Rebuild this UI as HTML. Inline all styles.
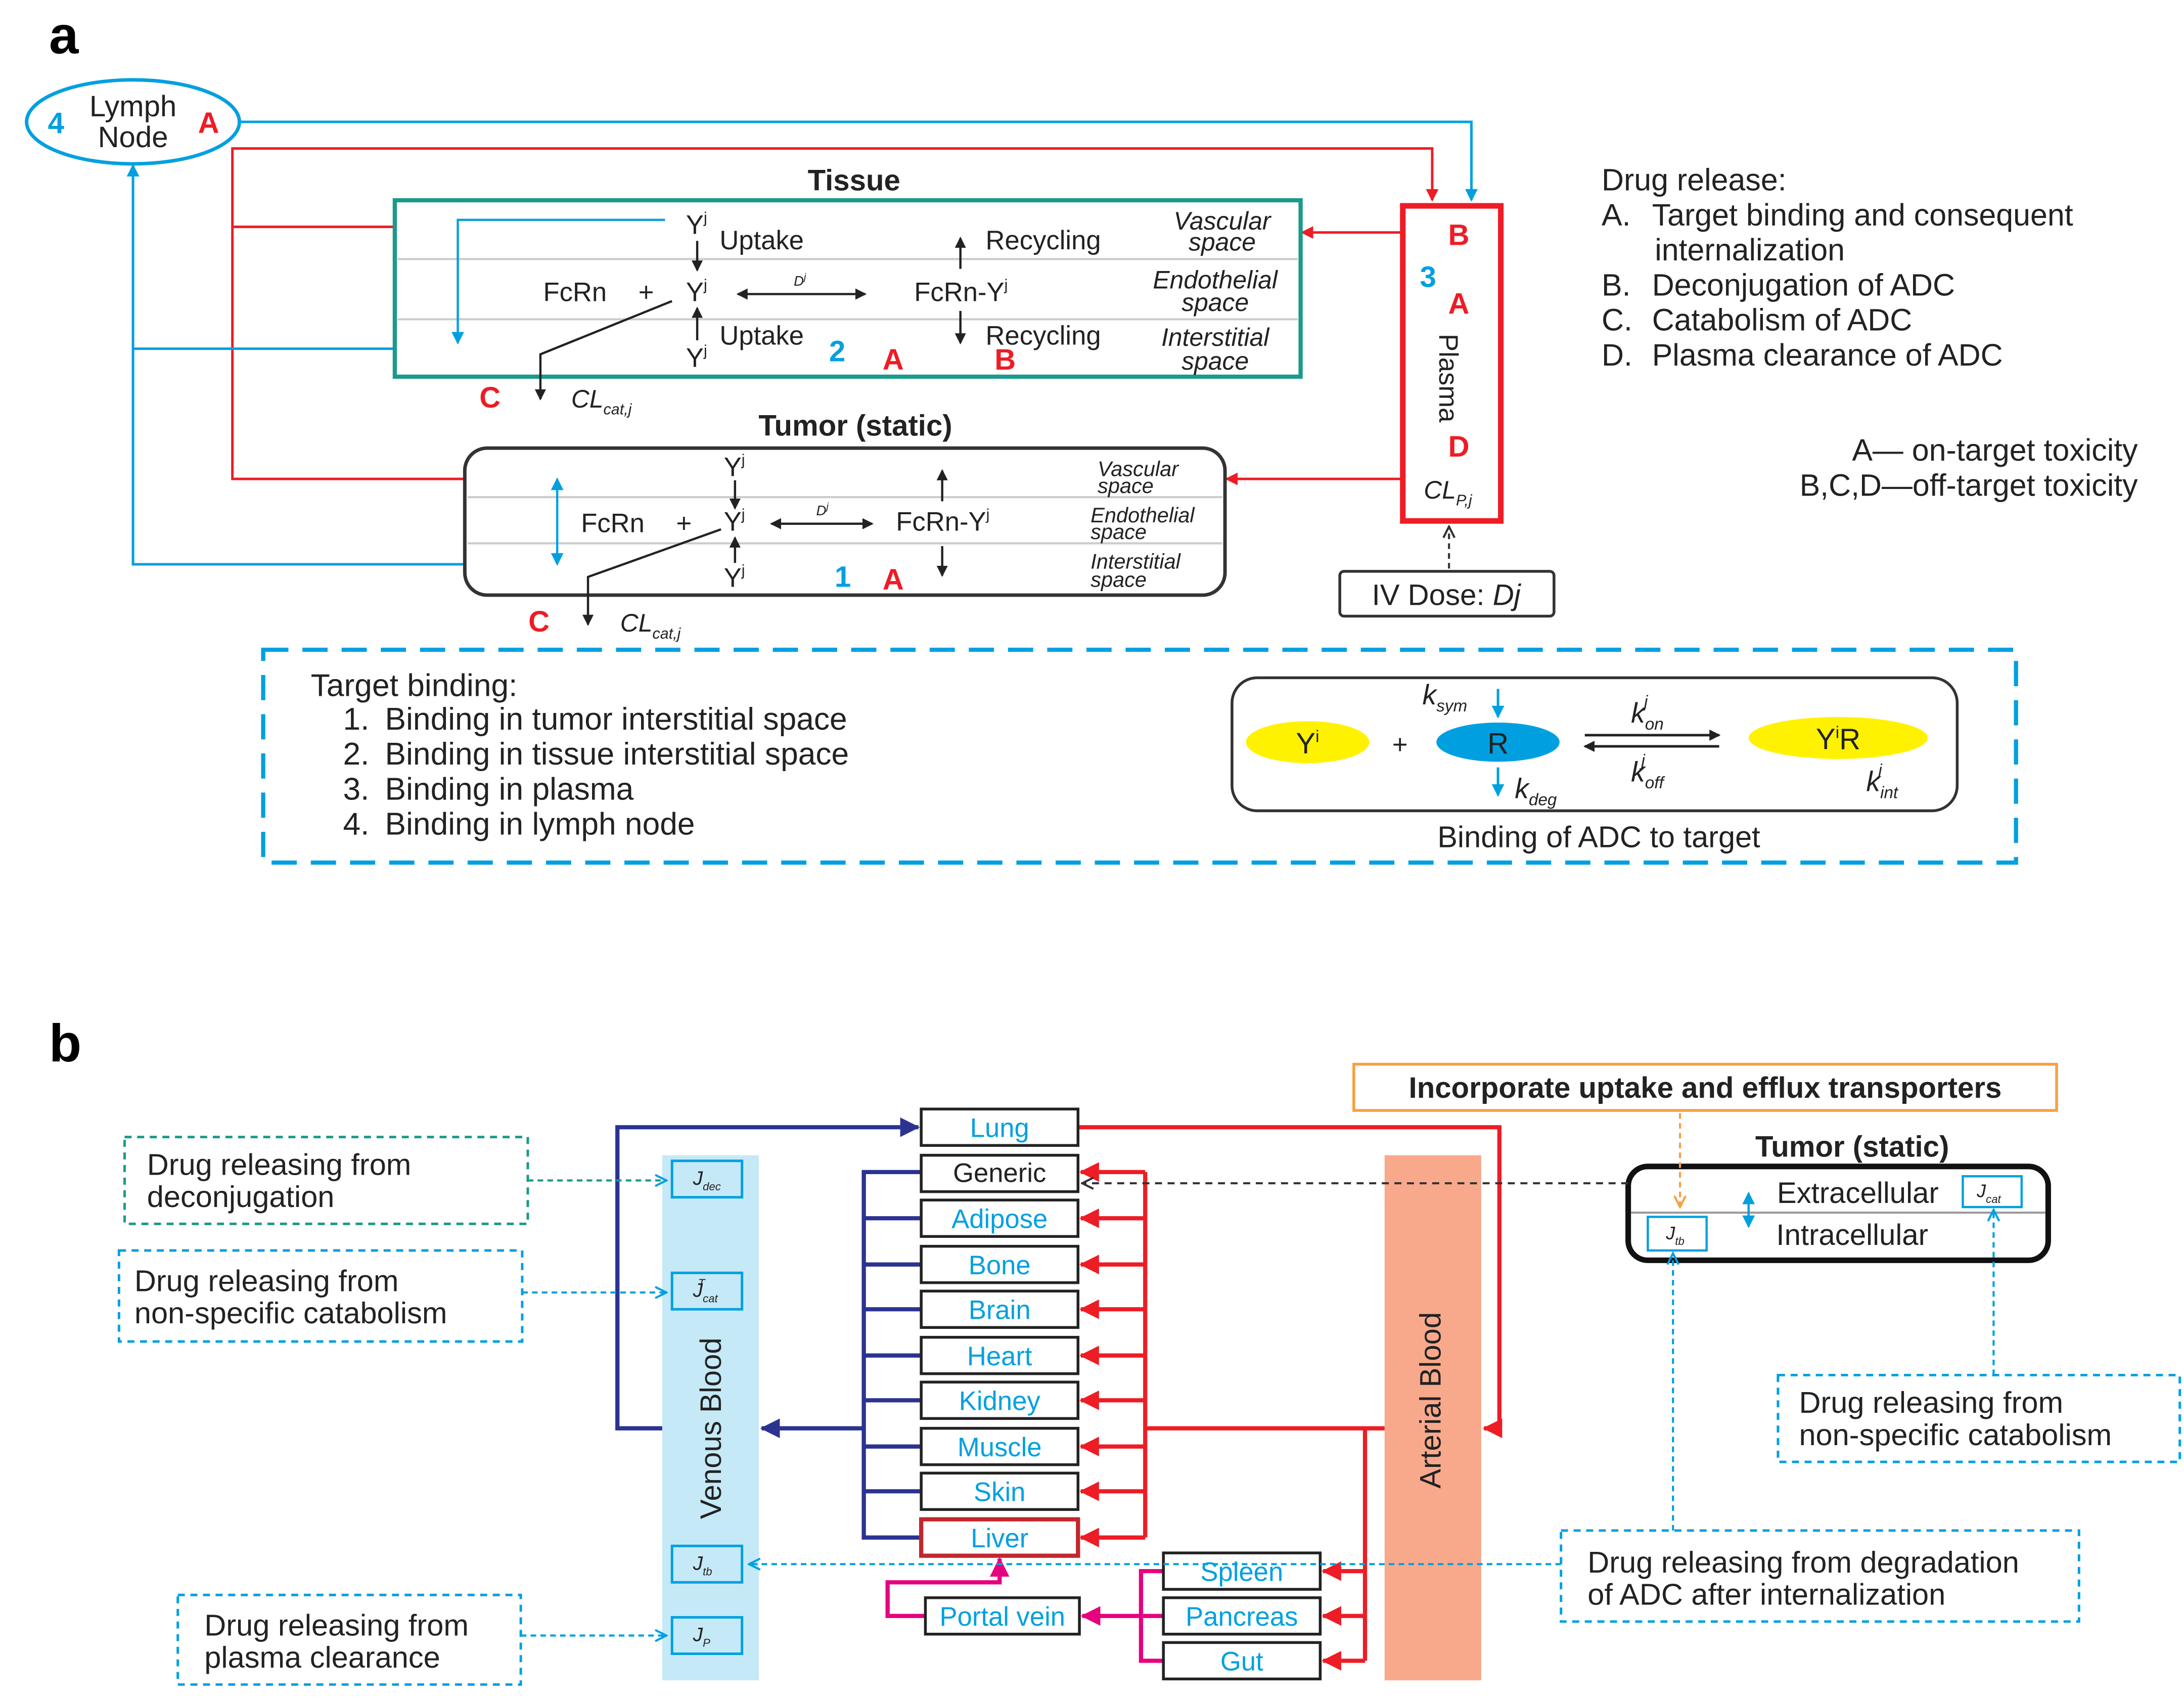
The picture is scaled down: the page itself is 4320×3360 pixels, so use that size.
<!DOCTYPE html>
<html><head><meta charset="utf-8"><style>
html,body{margin:0;padding:0;background:#fff}
svg{display:block;fill:#222}
text{font-family:"Liberation Sans",sans-serif}
.c{fill:#00a0e0}.r{fill:#ee1c25}.b{font-weight:bold}.i{font-style:italic}
</style></head><body>
<svg width="4320" height="3360" viewBox="0 0 1560 1213.3" xmlns="http://www.w3.org/2000/svg">
<defs>
<marker id="ak" markerWidth="8" markerHeight="8" refX="7" refY="4" orient="auto-start-reverse" markerUnits="userSpaceOnUse"><path d="M0,0 L8,4 L0,8 Z" fill="#222"/></marker>
<marker id="ar" markerWidth="9" markerHeight="9" refX="8" refY="4.5" orient="auto" markerUnits="userSpaceOnUse"><path d="M0,0 L9,4.5 L0,9 Z" fill="#ee1c25"/></marker>
<marker id="arb" markerWidth="14" markerHeight="14" refX="13" refY="7" orient="auto" markerUnits="userSpaceOnUse"><path d="M0,0 L14,7 L0,14 Z" fill="#ee1c25"/></marker>
<marker id="ac" markerWidth="9" markerHeight="9" refX="8" refY="4.5" orient="auto-start-reverse" markerUnits="userSpaceOnUse"><path d="M0,0 L9,4.5 L0,9 Z" fill="#00a0e0"/></marker>
<marker id="acd" markerWidth="10" markerHeight="10" refX="9" refY="5" orient="auto" markerUnits="userSpaceOnUse"><path d="M1,1 L9,5 L1,9" fill="none" stroke="#00a0e0" stroke-width="1.5"/></marker>
<marker id="akd" markerWidth="10" markerHeight="10" refX="9" refY="5" orient="auto" markerUnits="userSpaceOnUse"><path d="M1,1 L9,5 L1,9" fill="none" stroke="#333" stroke-width="1.5"/></marker>
<marker id="aod" markerWidth="10" markerHeight="10" refX="9" refY="5" orient="auto" markerUnits="userSpaceOnUse"><path d="M1,1 L9,5 L1,9" fill="none" stroke="#f7a040" stroke-width="1.5"/></marker>
<marker id="an" markerWidth="14" markerHeight="14" refX="13" refY="7" orient="auto" markerUnits="userSpaceOnUse"><path d="M0,0 L14,7 L0,14 Z" fill="#2b3391"/></marker>
<marker id="am" markerWidth="14" markerHeight="14" refX="13" refY="7" orient="auto" markerUnits="userSpaceOnUse"><path d="M0,0 L14,7 L0,14 Z" fill="#e6007e"/></marker>
</defs>

<!-- PART A -->
<text x="35" y="38" font-size="38" class="b" style="fill:#000">a</text>
<ellipse cx="95" cy="87" rx="76" ry="30" fill="none" stroke="#00a0e0" stroke-width="2.5"/>
<text x="95" y="83" font-size="21" text-anchor="middle">Lymph</text>
<text x="95" y="105" font-size="21" text-anchor="middle">Node</text>
<text x="40" y="95" font-size="21" class="c b" text-anchor="middle">4</text>
<text x="149" y="95" font-size="21" class="r b" text-anchor="middle">A</text>

<g fill="none" stroke-width="1.8">
<polyline points="171,87 1051,87 1051,143" stroke="#00a0e0" marker-end="url(#ac)"/>
<polyline points="166,162 166,106 1023,106 1023,143" stroke="#ee1c25" marker-end="url(#ar)"/>
<polyline points="166,162 166,342 332,342" stroke="#ee1c25"/>
<line x1="166" y1="162" x2="282" y2="162" stroke="#ee1c25"/>
<polyline points="332,403 95,403 95,118" stroke="#00a0e0" marker-end="url(#ac)"/>
<line x1="95" y1="249" x2="282" y2="249" stroke="#00a0e0"/>
<line x1="1002" y1="166" x2="930" y2="166" stroke="#ee1c25" marker-end="url(#ar)"/>
<line x1="1002" y1="342" x2="876" y2="342" stroke="#ee1c25" marker-end="url(#ar)"/>
</g>

<!-- Tissue -->
<text x="610" y="136" font-size="21" class="b" text-anchor="middle">Tissue</text>
<rect x="282" y="143" width="647" height="126" fill="none" stroke="#1a9a8a" stroke-width="3"/>
<line x1="284" y1="185" x2="927" y2="185" stroke="#ccc" stroke-width="1.5"/>
<line x1="284" y1="228" x2="927" y2="228" stroke="#ccc" stroke-width="1.5"/>
<g font-size="19">
<text x="490" y="167">Y<tspan font-size="11" dy="-8">j</tspan></text>
<text x="514" y="178">Uptake</text>
<text x="704" y="178">Recycling</text>
<text x="388" y="215">FcRn</text><text x="456" y="215">+</text>
<text x="490" y="215">Y<tspan font-size="11" dy="-8">j</tspan></text>
<text x="653" y="215">FcRn-Y<tspan font-size="11" dy="-8">j</tspan></text>
<text x="514" y="246">Uptake</text>
<text x="704" y="246">Recycling</text>
<text x="490" y="262">Y<tspan font-size="11" dy="-8">j</tspan></text>
</g>
<text x="567" y="204" font-size="10" class="i">D<tspan font-size="7" dy="-4">j</tspan></text>
<g font-size="18" class="i" text-anchor="middle">
<text x="873" y="164">Vascular</text><text x="873" y="179">space</text>
<text x="868" y="206">Endothelial</text><text x="868" y="222">space</text>
<text x="868" y="247">Interstitial</text><text x="868" y="264">space</text>
</g>
<text x="598" y="258" font-size="21" class="c b" text-anchor="middle">2</text>
<text x="638" y="264" font-size="21" class="r b" text-anchor="middle">A</text>
<text x="718" y="264" font-size="21" class="r b" text-anchor="middle">B</text>
<g stroke="#222" stroke-width="1.6" fill="none">
<line x1="498" y1="172" x2="498" y2="193" marker-end="url(#ak)"/>
<line x1="498" y1="243" x2="498" y2="220" marker-end="url(#ak)"/>
<line x1="686" y1="192" x2="686" y2="170" marker-end="url(#ak)"/>
<line x1="686" y1="222" x2="686" y2="245" marker-end="url(#ak)"/>
<line x1="527" y1="210" x2="618" y2="210" marker-end="url(#ak)" marker-start="url(#ak)"/>
<polyline points="480,215 386,253 386,285" marker-end="url(#ak)"/>
</g>
<polyline points="475,157 327,157 327,245" fill="none" stroke="#00a0e0" stroke-width="1.6" marker-end="url(#ac)"/>
<text x="350" y="291" font-size="21" class="r b" text-anchor="middle">C</text>
<text x="408" y="291" font-size="18" class="i">CL<tspan font-size="11" dy="5">cat,j</tspan></text>

<!-- Tumor -->
<text x="611" y="311" font-size="21" class="b" text-anchor="middle">Tumor (static)</text>
<rect x="332" y="320" width="543" height="105" rx="16" fill="none" stroke="#333" stroke-width="2.5"/>
<line x1="334" y1="355" x2="873" y2="355" stroke="#ccc" stroke-width="1.5"/>
<line x1="334" y1="388" x2="873" y2="388" stroke="#ccc" stroke-width="1.5"/>
<g font-size="19">
<text x="517" y="340">Y<tspan font-size="11" dy="-8">j</tspan></text>
<text x="415" y="380">FcRn</text><text x="483" y="380">+</text>
<text x="517" y="379">Y<tspan font-size="11" dy="-8">j</tspan></text>
<text x="640" y="379">FcRn-Y<tspan font-size="11" dy="-8">j</tspan></text>
<text x="517" y="419">Y<tspan font-size="11" dy="-8">j</tspan></text>
</g>
<text x="583" y="368" font-size="10" class="i">D<tspan font-size="7" dy="-4">j</tspan></text>
<g font-size="15" class="i">
<text x="784" y="340">Vascular</text><text x="784" y="352">space</text>
<text x="779" y="373">Endothelial</text><text x="779" y="385">space</text>
<text x="779" y="406">Interstitial</text><text x="779" y="419">space</text>
</g>
<text x="602" y="419" font-size="21" class="c b" text-anchor="middle">1</text>
<text x="638" y="421" font-size="21" class="r b" text-anchor="middle">A</text>
<g stroke="#222" stroke-width="1.6" fill="none">
<line x1="525" y1="343" x2="525" y2="363" marker-end="url(#ak)"/>
<line x1="525" y1="402" x2="525" y2="384" marker-end="url(#ak)"/>
<line x1="673" y1="358" x2="673" y2="336" marker-end="url(#ak)"/>
<line x1="673" y1="390" x2="673" y2="411" marker-end="url(#ak)"/>
<line x1="551" y1="374" x2="623" y2="374" marker-end="url(#ak)" marker-start="url(#ak)"/>
<polyline points="515,378 420,412 420,446" marker-end="url(#ak)"/>
</g>
<line x1="398" y1="342" x2="398" y2="403" stroke="#00a0e0" stroke-width="1.6" marker-end="url(#ac)" marker-start="url(#ac)"/>
<text x="385" y="451" font-size="21" class="r b" text-anchor="middle">C</text>
<text x="443" y="451" font-size="18" class="i">CL<tspan font-size="11" dy="5">cat,j</tspan></text>

<!-- Plasma -->
<rect x="1002" y="147" width="70" height="225" fill="none" stroke="#ee1c25" stroke-width="4"/>
<text x="1042" y="175" font-size="21" class="r b" text-anchor="middle">B</text>
<text x="1020" y="205" font-size="21" class="c b" text-anchor="middle">3</text>
<text x="1042" y="224" font-size="21" class="r b" text-anchor="middle">A</text>
<text x="1028" y="270" font-size="19" text-anchor="middle" transform="rotate(90 1028 270)">Plasma</text>
<text x="1042" y="326" font-size="21" class="r b" text-anchor="middle">D</text>
<text x="1017" y="356" font-size="18" class="i">CL<tspan font-size="11" dy="5">P,j</tspan></text>
<rect x="957" y="408" width="153" height="32" rx="3" fill="none" stroke="#333" stroke-width="2"/>
<text x="1033" y="432" font-size="21" text-anchor="middle">IV Dose: <tspan class="i">Dj</tspan></text>
<line x1="1035" y1="406" x2="1035" y2="376" stroke="#333" stroke-width="1.5" stroke-dasharray="4 3" marker-end="url(#akd)"/>

<!-- Drug release text -->
<g font-size="22">
<text x="1144" y="136">Drug release:</text>
<text x="1144" y="161">A.</text><text x="1180" y="161">Target binding and consequent</text>
<text x="1182" y="186">internalization</text>
<text x="1144" y="211">B.</text><text x="1180" y="211">Deconjugation of ADC</text>
<text x="1144" y="236">C.</text><text x="1180" y="236">Catabolism of ADC</text>
<text x="1144" y="261">D.</text><text x="1180" y="261">Plasma clearance of ADC</text>
<text x="1527" y="329" text-anchor="end">A— on-target toxicity</text>
<text x="1527" y="354" text-anchor="end">B,C,D—off-target toxicity</text>
</g>

<!-- Target binding box -->
<rect x="188" y="464" width="1252" height="152" fill="none" stroke="#00a0e0" stroke-width="3" stroke-dasharray="18 10"/>
<g font-size="22.5">
<text x="222" y="497">Target binding:</text>
<text x="245" y="521">1.</text><text x="275" y="521">Binding in tumor interstitial space</text>
<text x="245" y="546">2.</text><text x="275" y="546">Binding in tissue interstitial space</text>
<text x="245" y="571">3.</text><text x="275" y="571">Binding in plasma</text>
<text x="245" y="596">4.</text><text x="275" y="596">Binding in lymph node</text>
</g>
<text x="1142" y="605" font-size="21.5" text-anchor="middle">Binding of ADC to target</text>
<rect x="880" y="484" width="518" height="95" rx="18" fill="none" stroke="#333" stroke-width="2"/>
<ellipse cx="934" cy="530" rx="44" ry="15" fill="#fff200"/>
<text x="934" y="538" font-size="21" text-anchor="middle">Y<tspan font-size="12" dy="-8">i</tspan></text>
<text x="1000" y="538" font-size="19" text-anchor="middle">+</text>
<ellipse cx="1070" cy="530" rx="44" ry="14" fill="#00a0e0"/>
<text x="1070" y="538" font-size="21" text-anchor="middle">R</text>
<ellipse cx="1313" cy="527" rx="64" ry="15" fill="#fff200"/>
<text x="1313" y="535" font-size="21" text-anchor="middle">Y<tspan font-size="12" dy="-8">i</tspan><tspan dy="8">R</tspan></text>
<line x1="1070" y1="492" x2="1070" y2="512" stroke="#00a0e0" stroke-width="1.8" marker-end="url(#ac)"/>
<line x1="1070" y1="548" x2="1070" y2="568" stroke="#00a0e0" stroke-width="1.8" marker-end="url(#ac)"/>
<text x="1016" y="503" font-size="20" class="i">k<tspan font-size="12" dy="5">sym</tspan></text>
<text x="1082" y="570" font-size="20" class="i">k<tspan font-size="12" dy="5">deg</tspan></text>
<line x1="1132" y1="525" x2="1228" y2="525" stroke="#222" stroke-width="1.8" marker-end="url(#ak)"/>
<line x1="1228" y1="533" x2="1132" y2="533" stroke="#222" stroke-width="1.8" marker-end="url(#ak)"/>
<text x="1165" y="516" font-size="20" class="i">k<tspan font-size="12" dy="5">on</tspan><tspan font-size="12" dx="-14" dy="-16">j</tspan></text>
<text x="1165" y="558" font-size="20" class="i">k<tspan font-size="12" dy="5">off</tspan><tspan font-size="12" dx="-16" dy="-16">j</tspan></text>
<text x="1333" y="565" font-size="20" class="i">k<tspan font-size="12" dy="5">int</tspan><tspan font-size="12" dx="-14" dy="-16">j</tspan></text>

<!-- PART B -->
<text x="35" y="758" font-size="38" class="b" style="fill:#000">b</text>
<rect x="967" y="760" width="502" height="33" fill="none" stroke="#f7a040" stroke-width="2"/>
<text x="1218" y="784" font-size="21" class="b" text-anchor="middle">Incorporate uptake and efflux transporters</text>

<rect x="473" y="825" width="69" height="375" fill="#c6e9f7"/>
<text x="515" y="1020" font-size="21" text-anchor="middle" transform="rotate(-90 515 1020)">Venous Blood</text>
<rect x="989" y="825" width="69" height="375" fill="#f9a98b"/>
<text x="1029" y="1000" font-size="21" text-anchor="middle" transform="rotate(-90 1029 1000)">Arterial Blood</text>

<g fill="none" stroke="#00a0e0" stroke-width="1.8">
<rect x="480" y="829" width="50" height="26"/><rect x="480" y="909" width="50" height="26"/>
<rect x="480" y="1104" width="50" height="26"/><rect x="480" y="1155" width="50" height="26"/>
</g>
<g font-size="14" class="i">
<text x="495" y="846">J<tspan font-size="8" dy="4">dec</tspan></text>
<text x="495" y="926">J<tspan font-size="8" dy="4">cat</tspan><tspan font-size="8" dx="-14" dy="-11">T</tspan></text>
<text x="495" y="1121">J<tspan font-size="8" dy="4">tb</tspan></text>
<text x="495" y="1172">J<tspan font-size="8" dy="4">P</tspan></text>
</g>

<!-- navy -->
<g fill="none" stroke="#2b3391" stroke-width="3">
<polyline points="473,1020 441,1020 441,805 656,805" marker-end="url(#an)"/>
<polyline points="658,837 617,837 617,1098 658,1098"/>
<line x1="617" y1="870" x2="658" y2="870"/><line x1="617" y1="903" x2="658" y2="903"/>
<line x1="617" y1="935" x2="658" y2="935"/><line x1="617" y1="968" x2="658" y2="968"/>
<line x1="617" y1="1000" x2="658" y2="1000"/><line x1="617" y1="1033" x2="658" y2="1033"/>
<line x1="617" y1="1065" x2="658" y2="1065"/>
<line x1="617" y1="1020" x2="544" y2="1020" marker-end="url(#an)"/>
</g>
<!-- red -->
<g fill="none" stroke="#ee1c25" stroke-width="3">
<polyline points="770,805 1071,805 1071,1020 1060,1020" marker-end="url(#arb)"/>
<polyline points="818,837 818,1098"/>
<line x1="818" y1="837" x2="772" y2="837" marker-end="url(#arb)"/>
<line x1="818" y1="870" x2="772" y2="870" marker-end="url(#arb)"/>
<line x1="818" y1="903" x2="772" y2="903" marker-end="url(#arb)"/>
<line x1="818" y1="935" x2="772" y2="935" marker-end="url(#arb)"/>
<line x1="818" y1="968" x2="772" y2="968" marker-end="url(#arb)"/>
<line x1="818" y1="1000" x2="772" y2="1000" marker-end="url(#arb)"/>
<line x1="818" y1="1033" x2="772" y2="1033" marker-end="url(#arb)"/>
<line x1="818" y1="1065" x2="772" y2="1065" marker-end="url(#arb)"/>
<line x1="818" y1="1098" x2="772" y2="1098" marker-end="url(#arb)"/>
<line x1="818" y1="1020" x2="989" y2="1020"/>
<polyline points="975,1020 975,1186"/>
<line x1="975" y1="1122" x2="945" y2="1122" marker-end="url(#arb)"/>
<line x1="975" y1="1154" x2="945" y2="1154" marker-end="url(#arb)"/>
<line x1="975" y1="1186" x2="945" y2="1186" marker-end="url(#arb)"/>
</g>
<!-- magenta -->
<g fill="none" stroke="#e6007e" stroke-width="3">
<polyline points="831,1122 815,1122 815,1186 831,1186"/>
<line x1="831" y1="1154" x2="773" y2="1154" marker-end="url(#am)"/>
<polyline points="661,1154 634,1154 634,1130 714,1130 714,1113" marker-end="url(#am)"/>
</g>

<!-- organ boxes -->
<g fill="#fff" stroke="#222" stroke-width="2">
<rect x="658" y="792" width="112" height="26"/><rect x="658" y="825" width="112" height="26"/>
<rect x="658" y="857" width="112" height="26"/><rect x="658" y="890" width="112" height="26"/>
<rect x="658" y="922" width="112" height="26"/><rect x="658" y="955" width="112" height="26"/>
<rect x="658" y="987" width="112" height="26"/><rect x="658" y="1020" width="112" height="26"/>
<rect x="658" y="1052" width="112" height="26"/>
<rect x="831" y="1109" width="112" height="26"/><rect x="831" y="1141" width="112" height="26"/>
<rect x="831" y="1173" width="112" height="26"/><rect x="661" y="1141" width="110" height="26"/>
</g>
<rect x="658" y="1085" width="112" height="26" fill="#fff" stroke="#c1272d" stroke-width="3"/>
<g font-size="19" text-anchor="middle" fill="#00a0e0">
<text x="714" y="812">Lung</text>
<text x="714" y="844" fill="#222">Generic</text>
<text x="714" y="877">Adipose</text><text x="714" y="910">Bone</text>
<text x="714" y="942">Brain</text><text x="714" y="975">Heart</text>
<text x="714" y="1007">Kidney</text><text x="714" y="1040">Muscle</text>
<text x="714" y="1072">Skin</text><text x="714" y="1105">Liver</text>
<text x="887" y="1129">Spleen</text><text x="887" y="1161">Pancreas</text>
<text x="887" y="1193">Gut</text><text x="716" y="1161">Portal vein</text>
</g>

<!-- Tumor b -->
<text x="1323" y="826" font-size="21" class="b" text-anchor="middle">Tumor (static)</text>
<rect x="1163" y="833" width="300" height="67" rx="14" fill="none" stroke="#111" stroke-width="4"/>
<line x1="1165" y1="866" x2="1461" y2="866" stroke="#999" stroke-width="1.5"/>
<text x="1327" y="859" font-size="21" text-anchor="middle">Extracellular</text>
<text x="1323" y="889" font-size="21" text-anchor="middle">Intracellular</text>
<line x1="1249" y1="852" x2="1249" y2="876" stroke="#00a0e0" stroke-width="1.6" marker-end="url(#ac)" marker-start="url(#ac)"/>
<rect x="1402" y="840" width="42" height="22" fill="none" stroke="#00a0e0" stroke-width="1.6"/>
<rect x="1177" y="869" width="42" height="24" fill="none" stroke="#00a0e0" stroke-width="1.6"/>
<text x="1412" y="855" font-size="13" class="i">J<tspan font-size="8" dy="4">cat</tspan></text>
<text x="1190" y="885" font-size="13" class="i">J<tspan font-size="8" dy="4">tb</tspan></text>
<line x1="1200" y1="795" x2="1200" y2="862" stroke="#f7a040" stroke-width="1.5" stroke-dasharray="4 3" marker-end="url(#aod)"/>
<line x1="1163" y1="845" x2="773" y2="845" stroke="#333" stroke-width="1.5" stroke-dasharray="5 4" marker-end="url(#akd)"/>

<!-- dashed annotation boxes -->
<rect x="89" y="812" width="288" height="62" fill="none" stroke="#1a9a8a" stroke-width="1.8" stroke-dasharray="5 4"/>
<rect x="85" y="893" width="288" height="65" fill="none" stroke="#00a0e0" stroke-width="1.8" stroke-dasharray="5 4"/>
<rect x="127" y="1139" width="245" height="64" fill="none" stroke="#00a0e0" stroke-width="1.8" stroke-dasharray="5 4"/>
<rect x="1270" y="982" width="287" height="62" fill="none" stroke="#00a0e0" stroke-width="1.8" stroke-dasharray="5 4"/>
<rect x="1115" y="1093" width="370" height="65" fill="none" stroke="#00a0e0" stroke-width="1.8" stroke-dasharray="5 4"/>
<g stroke-width="1.5" stroke-dasharray="4 3" fill="none">
<line x1="377" y1="843" x2="476" y2="843" stroke="#1a9a8a" marker-end="url(#acd)"/>
<line x1="373" y1="923" x2="476" y2="923" stroke="#00a0e0" marker-end="url(#acd)"/>
<line x1="372" y1="1168" x2="476" y2="1168" stroke="#00a0e0" marker-end="url(#acd)"/>
<line x1="1115" y1="1117" x2="535" y2="1117" stroke="#00a0e0" marker-end="url(#acd)"/>
<line x1="1424" y1="982" x2="1424" y2="864" stroke="#00a0e0" marker-end="url(#acd)"/>
<line x1="1195" y1="1093" x2="1195" y2="895" stroke="#00a0e0" marker-end="url(#acd)"/>
</g>
<g font-size="21.5">
<text x="105" y="839">Drug releasing from</text><text x="105" y="862">deconjugation</text>
<text x="96" y="922">Drug releasing from</text><text x="96" y="945">non-specific catabolism</text>
<text x="146" y="1168">Drug releasing from</text><text x="146" y="1191">plasma clearance</text>
<text x="1285" y="1009">Drug releasing from</text><text x="1285" y="1032">non-specific catabolism</text>
<text x="1134" y="1123">Drug releasing from degradation</text><text x="1134" y="1146">of ADC after internalization</text>
</g>
</svg>
</body></html>
